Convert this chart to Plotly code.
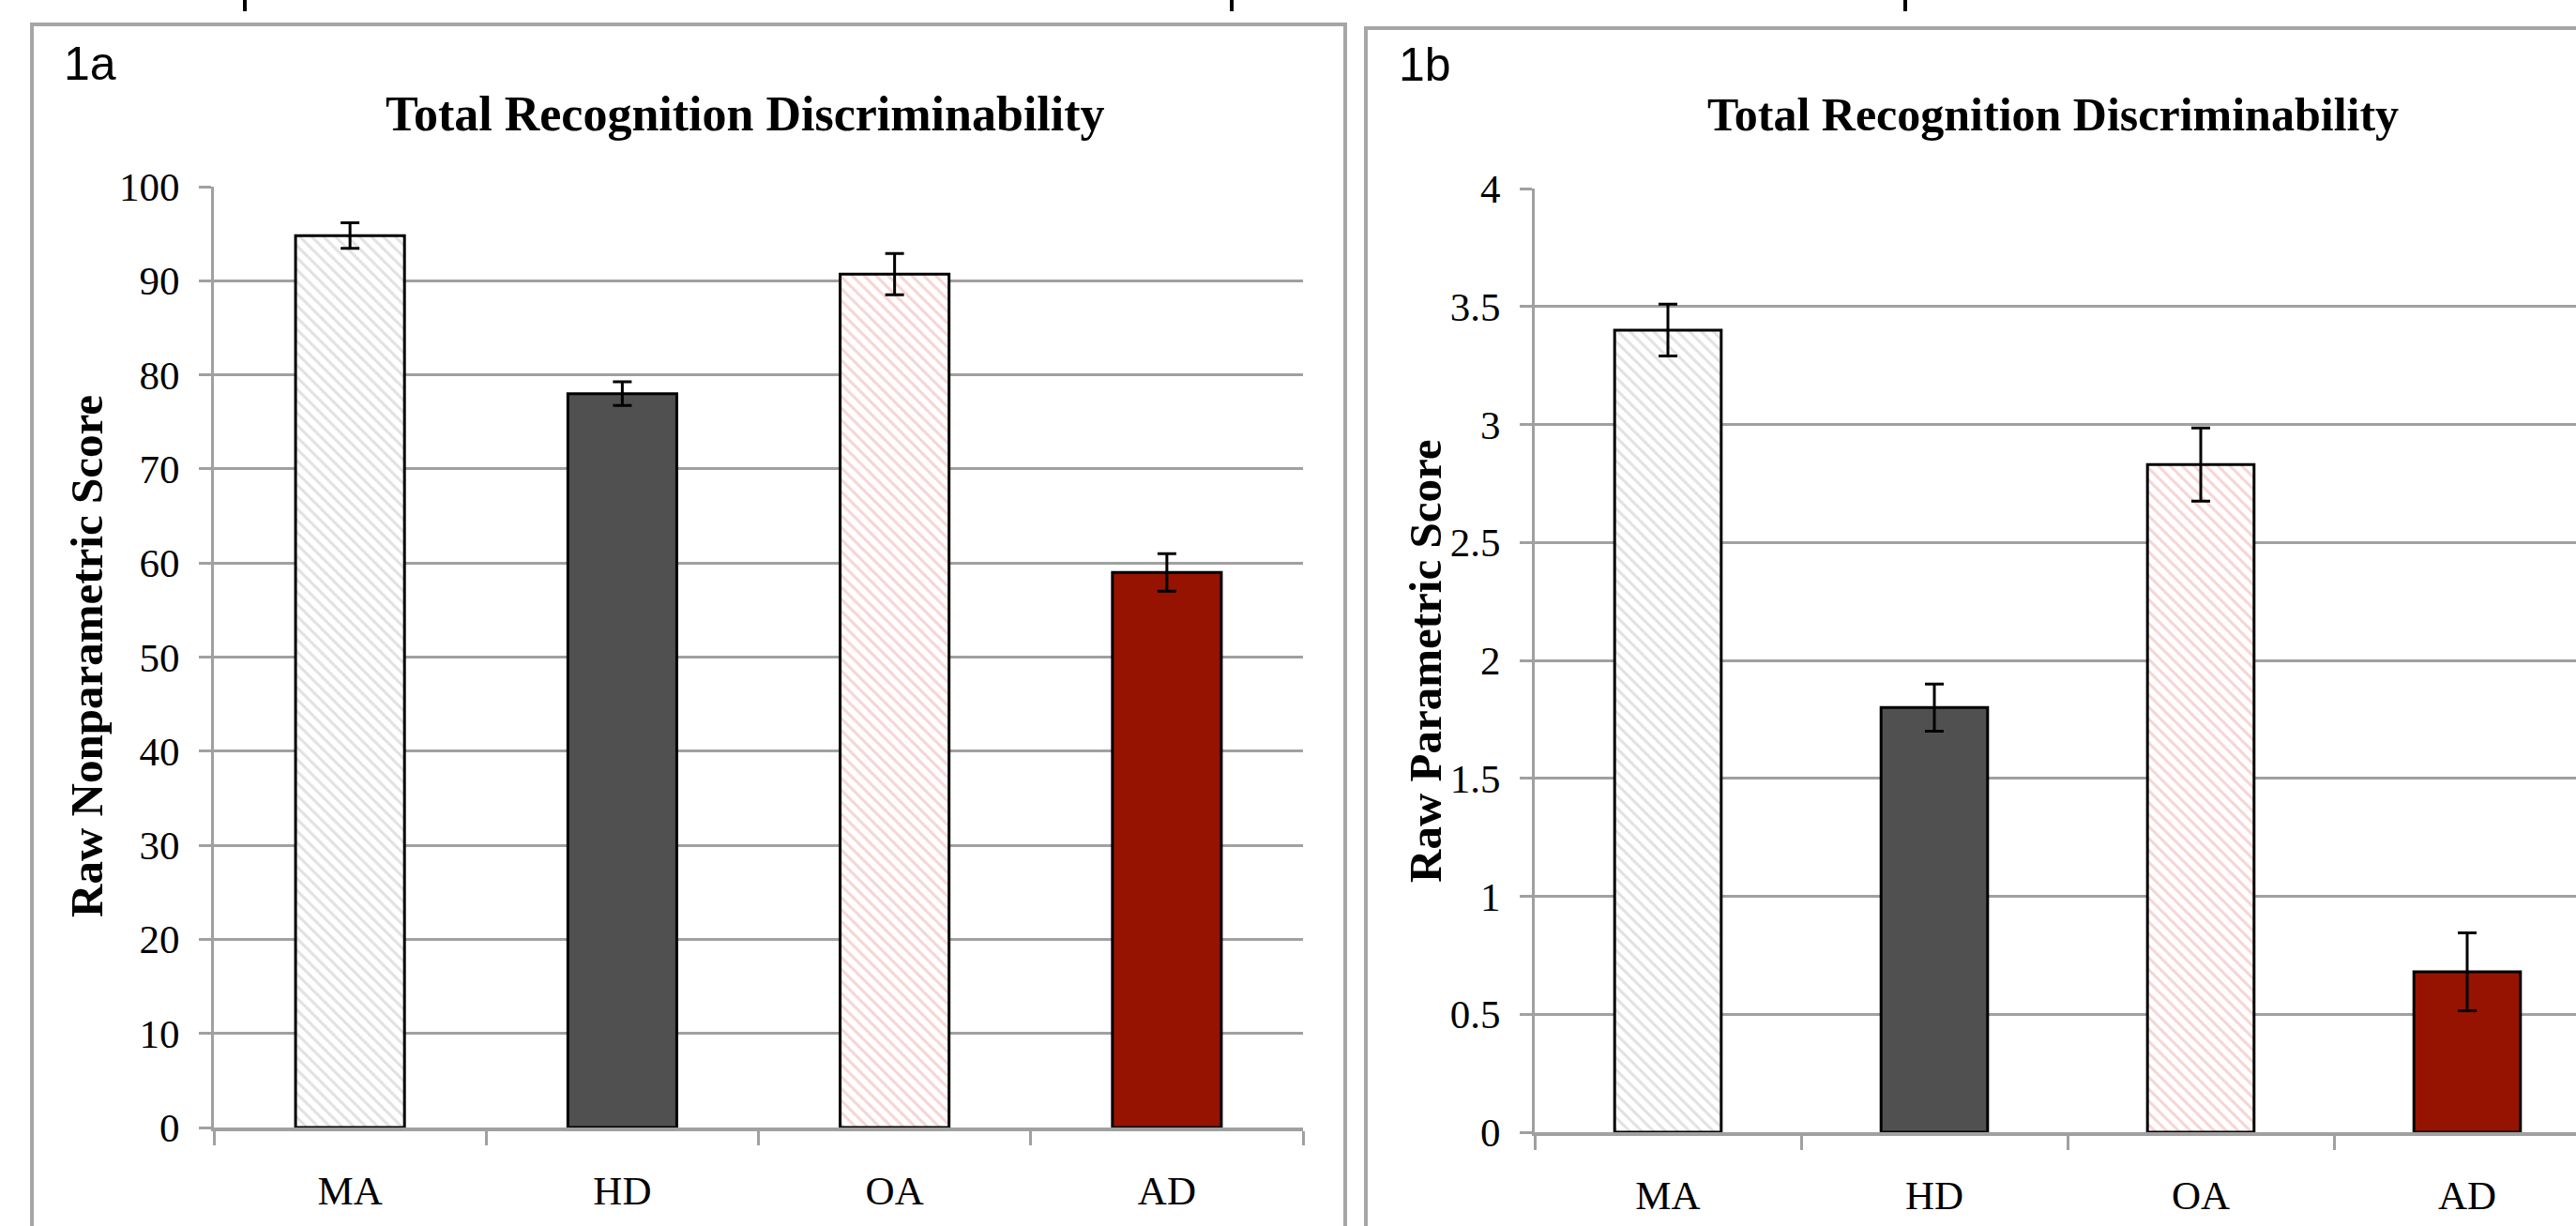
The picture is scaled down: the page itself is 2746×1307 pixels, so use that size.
import plotly.graph_objects as go

# ---------------- data ----------------
categories = ["MA", "HD", "OA", "AD"]
nonparam_values = [94.8, 78.0, 90.7, 59.0]
nonparam_errors = [1.35, 1.25, 2.2, 2.0]
param_values = [3.40, 1.80, 2.83, 0.68]
param_errors = [0.11, 0.10, 0.155, 0.165]

panel_labels = ["1a", "1b"]
chart_title = "Total Recognition Discriminability"
yaxis_titles = ["Raw Nonparametric Score", "Raw Parametric Score"]
left_ytick_vals = [0, 10, 20, 30, 40, 50, 60, 70, 80, 90, 100]
right_ytick_vals = [0, 0.5, 1, 1.5, 2, 2.5, 3, 3.5, 4]
right_ytick_text = ["0", "0.5", "1", "1.5", "2", "2.5", "3", "3.5", "4"]

# ---------------- styles ----------------
W, H = 2746, 1307
SERIF = "Liberation Serif, Times New Roman, serif"
SANS = "Liberation Sans, Arial, sans-serif"
GRID = "#a0a0a0"
bar_colors = ["white", "#505050", "white", "#951300"]
hatch_shapes = ["\\", "", "\\", ""]
hatch_colors = ["#c4c4c4", "#505050", "#eeaaaa", "#951300"]


def px(x):
    return x / W


def py(y):
    return 1 - y / H


fig = go.Figure()

for vals, errs, xa, ya in [
    (nonparam_values, nonparam_errors, "x", "y"),
    (param_values, param_errors, "x2", "y2"),
]:
    for i, cat in enumerate(categories):
        pat = dict(shape=hatch_shapes[i])
        if hatch_shapes[i]:
            pat.update(fgcolor=hatch_colors[i], bgcolor=bar_colors[i],
                       fillmode="overlay", size=9, solidity=0.33)
        fig.add_trace(
            go.Bar(
                x=[cat],
                y=[vals[i]],
                xaxis=xa,
                yaxis=ya,
                width=0.4,
                marker=dict(
                    color=bar_colors[i],
                    line=dict(color="black", width=3),
                    pattern=pat,
                ),
                error_y=dict(
                    type="data",
                    array=[errs[i]],
                    visible=True,
                    color="black",
                    thickness=3,
                    width=10,
                ),
                showlegend=False,
            )
        )

xcommon = dict(
    type="category",
    categoryorder="array",
    categoryarray=categories,
    tickson="boundaries",
    ticks="outside",
    ticklen=15,
    tickwidth=3,
    tickcolor=GRID,
    showline=True,
    linecolor=GRID,
    linewidth=4,
    showgrid=False,
    tickfont=dict(family=SERIF, size=43, color="black"),
    ticklabelstandoff=26,
    automargin=False,
    fixedrange=True,
)
ycommon = dict(
    ticks="outside",
    ticklen=13,
    tickwidth=3,
    tickcolor=GRID,
    showline=True,
    linecolor=GRID,
    linewidth=3,
    showgrid=True,
    gridcolor=GRID,
    gridwidth=3,
    zeroline=False,
    tickfont=dict(family=SERIF, size=43, color="black"),
    ticklabelstandoff=12,
    automargin=False,
    fixedrange=True,
)

fig.update_layout(
    width=W,
    height=H,
    autosize=False,
    margin=dict(l=0, r=0, t=0, b=0, pad=0, autoexpand=False),
    paper_bgcolor="white",
    plot_bgcolor="white",
    barmode="overlay",
    xaxis=dict(xcommon, domain=[px(228), px(1389)], range=[-0.5, 3.5], anchor="y"),
    yaxis=dict(
        ycommon,
        domain=[py(1202), py(199)],
        range=[0, 100],
        tickvals=left_ytick_vals,
        anchor="x",
    ),
    xaxis2=dict(
        xcommon, domain=[px(1636), 1.0], range=[-0.5, 3.5 - 26 / 284], anchor="y2"
    ),
    yaxis2=dict(
        ycommon,
        domain=[py(1207), py(201)],
        range=[0, 4],
        tickvals=right_ytick_vals,
        ticktext=right_ytick_text,
        anchor="x2",
    ),
)

annotations = []
for cx, fs in [(794, 52), (2188, 50)]:
    annotations.append(
        dict(
            text=chart_title,
            xref="paper", yref="paper",
            x=px(cx), y=py(122),
            xanchor="center", yanchor="middle",
            showarrow=False,
            font=dict(family=SERIF, size=fs, color="black", weight="bold"),
        )
    )
for cx, cy, t in [(92, 700, yaxis_titles[0]), (1519, 705, yaxis_titles[1])]:
    annotations.append(
        dict(
            text=t,
            xref="paper", yref="paper",
            x=px(cx), y=py(cy),
            xanchor="center", yanchor="middle",
            textangle=-90,
            showarrow=False,
            font=dict(family=SERIF, size=49, color="black", weight="bold"),
        )
    )
for lx, ly, t in [(66, 68, panel_labels[0]), (1489, 69, panel_labels[1])]:
    annotations.append(
        dict(
            text=t,
            xref="paper", yref="paper",
            x=px(lx), y=py(ly),
            xanchor="left", yanchor="middle",
            showarrow=False,
            font=dict(family=SANS, size=50, color="black"),
        )
    )
fig.update_layout(annotations=annotations)

shapes = []
shapes.append(
    dict(type="rect", xref="paper", yref="paper",
         x0=px(34), x1=px(1434), y0=py(1330), y1=py(26),
         line=dict(color="#a6a6a6", width=4), fillcolor="rgba(0,0,0,0)", layer="below")
)
shapes.append(
    dict(type="rect", xref="paper", yref="paper",
         x0=px(1456), x1=px(2780), y0=py(1330), y1=py(30),
         line=dict(color="#a6a6a6", width=4), fillcolor="rgba(0,0,0,0)", layer="below")
)
for mx in [261, 1313, 2031]:
    shapes.append(
        dict(type="line", xref="paper", yref="paper",
             x0=px(mx), x1=px(mx), y0=py(0), y1=py(12),
             line=dict(color="black", width=4))
    )
fig.update_layout(shapes=shapes)

fig.write_html(
    "out.html",
    config={"responsive": False, "displayModeBar": False},
    post_script="document.body.style.margin='0';document.body.style.overflow='hidden';",
)
